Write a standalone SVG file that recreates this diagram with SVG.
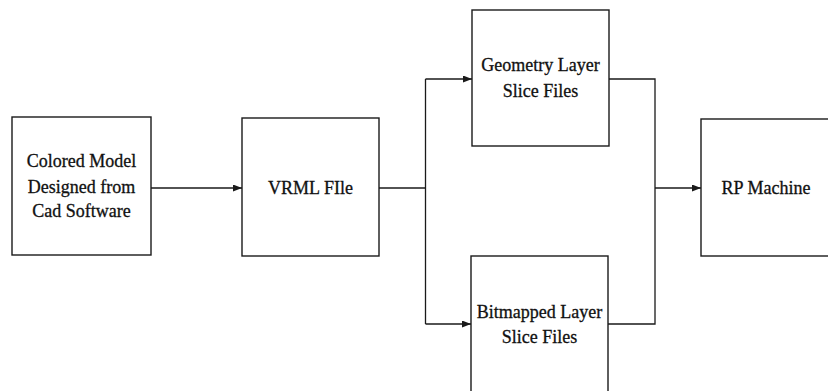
<svg xmlns="http://www.w3.org/2000/svg" width="828" height="391" viewBox="0 0 828 391">
  <style>
    .box { fill: #ffffff; stroke: #1a1a1a; stroke-width: 1.4; }
    .wire { fill: none; stroke: #1a1a1a; stroke-width: 1.3; }
    .lbl { font-family: "Liberation Serif", "Times New Roman", serif; font-size: 18px; fill: #111111; stroke: #111111; stroke-width: 0.3; text-anchor: middle; }
  </style>
  <defs>
    <marker id="arrow" viewBox="0 0 9 7" refX="9" refY="3.5" markerWidth="9" markerHeight="7" markerUnits="userSpaceOnUse" orient="auto">
      <path d="M0,0 L9,3.5 L0,7 Z" fill="#1a1a1a"/>
    </marker>
  </defs>
  <rect width="828" height="391" fill="#ffffff"/>

  <g id="connectors">
    <line class="wire" x1="151" y1="188" x2="242" y2="188" marker-end="url(#arrow)"/>
    <polyline class="wire" points="379,188 425.5,188"/>
    <polyline class="wire" points="425.5,79 425.5,324"/>
    <line class="wire" x1="425.5" y1="79" x2="472" y2="79" marker-end="url(#arrow)"/>
    <line class="wire" x1="425.5" y1="324" x2="471" y2="324" marker-end="url(#arrow)"/>
    <polyline class="wire" points="609,79 655,79 655,324 608,324"/>
    <line class="wire" x1="655" y1="188" x2="701" y2="188" marker-end="url(#arrow)"/>
  </g>

  <g id="colored-model">
    <rect class="box" x="12" y="117" width="139" height="138"/>
    <text class="lbl" x="81.5" y="167">Colored Model</text>
    <text class="lbl" x="81.5" y="193">Designed from</text>
    <text class="lbl" x="81.5" y="217">Cad Software</text>
  </g>

  <g id="vrml-file">
    <rect class="box" x="242" y="118" width="137" height="138"/>
    <text class="lbl" x="310.5" y="194">VRML FIle</text>
  </g>

  <g id="geometry-slices">
    <rect class="box" x="472" y="10" width="137" height="136"/>
    <text class="lbl" x="540.5" y="71">Geometry Layer</text>
    <text class="lbl" x="540.5" y="97">Slice Files</text>
  </g>

  <g id="bitmapped-slices">
    <rect class="box" x="471" y="256" width="137" height="140"/>
    <text class="lbl" x="539.5" y="318">Bitmapped Layer</text>
    <text class="lbl" x="539.5" y="343">Slice Files</text>
  </g>

  <g id="rp-machine">
    <rect class="box" x="701" y="119" width="137" height="137"/>
    <text class="lbl" x="766" y="194">RP Machine</text>
  </g>
</svg>
